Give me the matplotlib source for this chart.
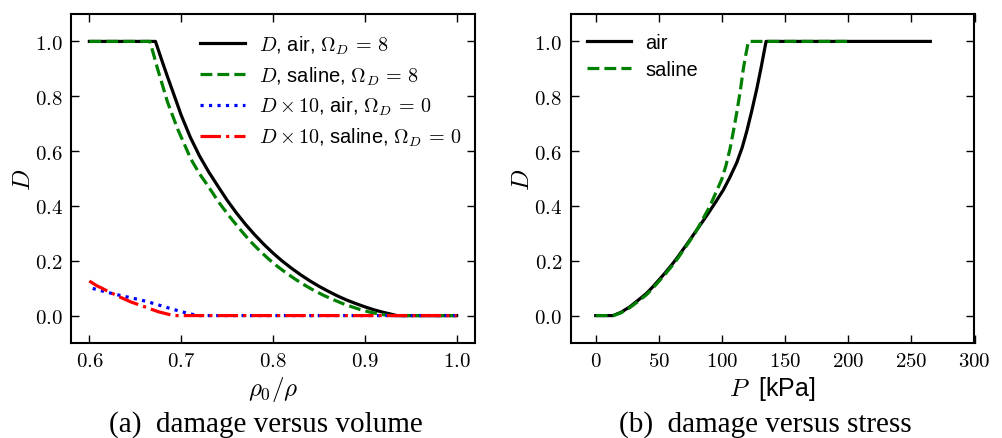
import numpy as np
import matplotlib
matplotlib.use("Agg")
import matplotlib.pyplot as plt
from matplotlib.ticker import FormatStrFormatter, MultipleLocator

plt.rcParams['font.family'] = ['Liberation Sans', 'DejaVu Sans']
plt.rcParams['mathtext.fontset'] = 'cm'

# ---- panel (a): damage versus volume ----
rho_air8 = [0.600, 0.672, 0.678, 0.685, 0.6925, 0.700, 0.710, 0.720, 0.730, 0.740,
            0.750, 0.760, 0.770, 0.780, 0.790, 0.800, 0.810, 0.820, 0.830, 0.840,
            0.850, 0.860, 0.870, 0.880, 0.890, 0.900, 0.910, 0.920, 0.930, 0.935, 1.000]
D_air8 = [1.0, 1.0, 0.940, 0.872, 0.802, 0.731, 0.650, 0.582, 0.524, 0.472,
          0.421, 0.375, 0.333, 0.295, 0.260, 0.228, 0.199, 0.173, 0.149, 0.127,
          0.107, 0.089, 0.072, 0.057, 0.044, 0.032, 0.021, 0.012, 0.004, 0.0, 0.0]

rho_sal8 = [0.600, 0.666, 0.6743, 0.6852, 0.6962, 0.7107, 0.720, 0.729, 0.741, 0.753,
            0.765, 0.775, 0.785, 0.795, 0.805, 0.815, 0.825, 0.835, 0.845, 0.855,
            0.865, 0.875, 0.885, 0.895, 0.905, 0.915, 0.925, 0.929, 1.000]
D_sal8 = [1.0, 1.0, 0.900, 0.778, 0.680, 0.570, 0.517, 0.474, 0.413, 0.360,
          0.311, 0.272, 0.238, 0.207, 0.179, 0.154, 0.131, 0.110, 0.091, 0.074,
          0.059, 0.045, 0.033, 0.022, 0.013, 0.006, 0.001, 0.0, 0.0]

rho_air0 = [0.6036, 0.618, 0.633, 0.648, 0.662, 0.677, 0.691, 0.703, 0.713, 0.717, 1.000]
D_air0 = [0.099, 0.086, 0.074, 0.063, 0.052, 0.037, 0.023, 0.012, 0.004, 0.0, 0.0]

rho_sal0 = [0.600, 0.607, 0.620, 0.633, 0.645, 0.662, 0.675, 0.687, 0.692, 1.000]
D_sal0 = [0.126, 0.111, 0.089, 0.068, 0.050, 0.030, 0.014, 0.004, 0.0, 0.0]

# ---- panel (b): damage versus stress ----
P_air = [0.0, 13.8, 20, 27, 33, 40.2, 45, 50.8, 55, 60, 65, 69.3, 74, 78.6, 83, 87.8,
         94.4, 101, 106, 111.7, 116, 119.6, 123.5, 127.5, 131, 134.9, 265.0]
D_airP = [0.0, 0.0, 0.012, 0.032, 0.054, 0.081, 0.104, 0.134, 0.156, 0.184, 0.214, 0.242,
          0.272, 0.303, 0.332, 0.364, 0.410, 0.458, 0.502, 0.558, 0.613, 0.672, 0.745,
          0.826, 0.905, 1.0, 1.0]

P_sal = [0.0, 13.8, 20, 27, 33, 40.2, 45, 50.8, 55, 60, 65, 69.3, 74, 78.6, 84, 90.5,
         95, 99.8, 103, 106.3, 109, 111.7, 114.5, 116.9, 119, 120.9, 203.0]
D_salP = [0.0, 0.0, 0.010, 0.029, 0.050, 0.076, 0.099, 0.129, 0.151, 0.179, 0.209, 0.238,
          0.269, 0.300, 0.345, 0.400, 0.447, 0.497, 0.545, 0.607, 0.672, 0.741, 0.820,
          0.900, 0.955, 1.0, 1.0]

W, H = 1003, 439
fig = plt.figure(figsize=(W / 100, H / 100), dpi=100)
ax1 = fig.add_axes([71 / W, 1 - 344 / H, 404 / W, 329 / H])
ax2 = fig.add_axes([570.5 / W, 1 - 344 / H, 404 / W, 329 / H])

lw = 2.3
ax1.plot(rho_air8, D_air8, color='black', lw=lw, ls='-', label=r'$D$, air, $\Omega_D\,=\,8$')
ax1.plot(rho_sal8, D_sal8, color='green', lw=lw, ls='--', label=r'$D$, saline, $\Omega_D\,=\,8$')
ax1.plot(rho_air0, D_air0, color='blue', lw=lw, ls=':', label=r'$D\times10$, air, $\Omega_D\,=\,0$')
ax1.plot(rho_sal0, D_sal0, color='red', lw=lw, ls='-.', label=r'$D\times10$, saline, $\Omega_D\,=\,0$')

ax2.plot(P_air, D_airP, color='black', lw=lw, ls='-', label='air')
ax2.plot(P_sal, D_salP, color='green', lw=lw, ls='--', label='saline')

ax1.set_xlim(0.58, 1.02)
ax1.set_ylim(-0.1, 1.1)
ax2.set_xlim(-20, 300)
ax2.set_ylim(-0.1, 1.1)

ax1.xaxis.set_major_locator(MultipleLocator(0.1))
ax1.xaxis.set_major_formatter(FormatStrFormatter(r'$%.1f$'))
ax2.xaxis.set_major_locator(MultipleLocator(50))
ax2.xaxis.set_major_formatter(FormatStrFormatter(r'$%d$'))
for ax in (ax1, ax2):
    ax.yaxis.set_major_locator(MultipleLocator(0.2))
    ax.yaxis.set_major_formatter(FormatStrFormatter(r'$%.1f$'))
    ax.tick_params(direction='in', top=True, right=True, length=6, width=1.0,
                   labelsize=15, pad=6)
    for s in ax.spines.values():
        s.set_linewidth(1.5)
    ax.set_ylabel(r'$D$', fontsize=18, labelpad=0)

ax1.set_xlabel(r'$\rho_0/\rho$', fontsize=18, labelpad=3)
ax2.set_xlabel(r'$P\;$ [kPa]', fontsize=18, labelpad=3)

ax1.legend(loc='upper left', bbox_to_anchor=(0.30, 0.966), frameon=False, fontsize=14.5,
           handlelength=2.2, labelspacing=0.42, borderaxespad=0.0, handletextpad=0.7)
ax2.legend(loc='upper left', bbox_to_anchor=(0.02, 0.968), frameon=False, fontsize=14.5,
           handlelength=2.2, labelspacing=0.40, borderaxespad=0.0, handletextpad=0.7)

fig.text(266 / W, 1 - 425 / H, '(a)  damage versus volume', ha='center', va='center',
         family='Liberation Serif', fontsize=21)
fig.text(765 / W, 1 - 425 / H, '(b)  damage versus stress', ha='center', va='center',
         family='Liberation Serif', fontsize=21)

fig.savefig('out.png', dpi=100)
